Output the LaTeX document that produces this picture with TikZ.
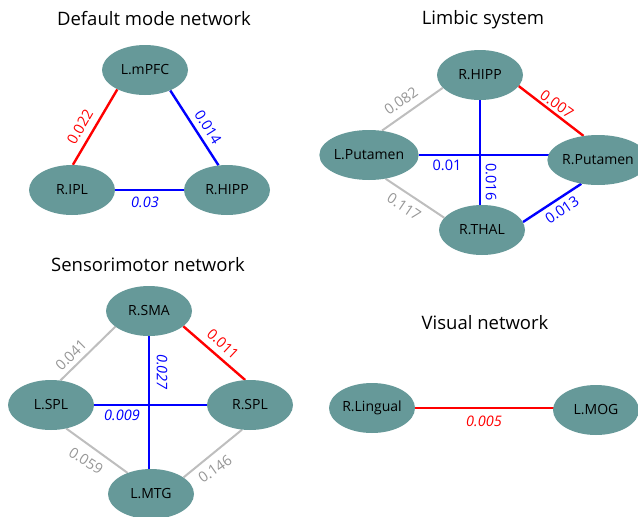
\documentclass[tikz,border=0pt]{standalone}
\usepackage{fontspec}
\setmainfont{Open Sans}
\usetikzlibrary{shapes.geometric,backgrounds}
\definecolor{region}{RGB}{102,153,153}
\definecolor{posred}{RGB}{255,0,0}
\definecolor{negblue}{RGB}{0,0,255}
\definecolor{nsgray}{RGB}{190,190,190}
\definecolor{nstext}{RGB}{150,150,150}
\tikzset{
  region/.style={ellipse, fill=region, minimum width=86pt, minimum height=50pt,
    inner sep=0pt, font=\fontsize{14}{14}\selectfont, text=black},
  nettitle/.style={font=\fontsize{18.5}{19}\selectfont, text=black},
  edgeval/.style={font=\fontsize{14.5}{14.5}\selectfont, inner sep=0pt},
  redlink/.style={draw=posred, line width=2.4pt},
  bluelink/.style={draw=negblue, line width=2.4pt},
  graylink/.style={draw=nsgray, line width=2pt},
  redval/.style={edgeval, text=posred},
  blueval/.style={edgeval, text=negblue},
  grayval/.style={edgeval, text=nstext},
}
\begin{document}
\begin{tikzpicture}[x=1pt, y=-1pt]
\useasboundingbox (0,0) rectangle (638,517);

% ---- Default mode network ----
\node[nettitle] (tdmn) at (154,19) {Default mode network};
\node[region] (mpfc) at (145,70) {L.mPFC};
\node[region] (ipl) at (72,190) {R.IPL};
\node[region] (hippd) at (227,190) {R.HIPP};

% ---- Limbic system ----
\node[nettitle] (tlim) at (483,20) {Limbic system};
\node[region] (hipp) at (480,75) {R.HIPP};
\node[region] (lput) at (369,155) {L.Putamen};
\node[region] (rput) at (598,160) {R.Putamen};
\node[region] (thal) at (482,230) {R.THAL};

% ---- Sensorimotor network ----
\node[nettitle] (tsm) at (148,265) {Sensorimotor network};
\node[region] (sma) at (149,311) {R.SMA};
\node[region] (lspl) at (51,405) {L.SPL};
\node[region] (rspl) at (250,405) {R.SPL};
\node[region] (mtg) at (151,494) {L.MTG};

% ---- Visual network ----
\node[nettitle] (tvis) at (485,323) {Visual network};
\node[region] (ling) at (372,408) {R.Lingual};
\node[region] (mog) at (596,410) {L.MOG};

\begin{pgfonlayer}{background}
  % default mode
  \draw[redlink] (mpfc.215) -- (ipl.88);
  \draw[bluelink] (mpfc.321) -- (hippd.109);
  \draw[bluelink] (ipl) -- (hippd);
  % limbic
  \draw[graylink] (lput.62) -- (hipp.199);
  \draw[redlink] (hipp.344) -- (rput.121);
  \draw[bluelink] (lput) -- (lput -| rput);
  \draw[bluelink] (hipp) -- (hipp |- thal);
  \draw[graylink] (lput.305) -- (thal.162);
  \draw[bluelink] (thal.11) -- (rput.235);
  % sensorimotor
  \draw[graylink] (lspl.69) -- (sma.205);
  \draw[redlink] (sma.336) -- (rspl.101);
  \draw[bluelink] (sma) -- (sma |- mtg);
  \draw[bluelink] (lspl) -- (rspl);
  \draw[graylink] (lspl.303) -- (mtg.138);
  \draw[graylink] (rspl.252) -- (mtg.27);
  % visual
  \draw[redlink] (ling) -- (ling -| mog);
\end{pgfonlayer}

% edge values
\node[redval, rotate=60] (v1) at (80,127) {0.022};
\node[blueval, rotate=-58] (v2) at (208,127) {0.014};
\node[blueval] (v3) at (145,202) {\itshape 0.03};

\node[grayval, rotate=35] (v4) at (401,101) {0.082};
\node[redval, rotate=-36] (v5) at (557,104) {0.007};
\node[blueval] (v6) at (447,165) {0.01};
\node[blueval, rotate=-90] (v7) at (491,182) {0.016};
\node[grayval, rotate=-34] (v8) at (404,207) {0.117};
\node[blueval, rotate=34] (v9) at (562,210) {0.013};

\node[grayval, rotate=45] (v10) at (71,355) {0.041};
\node[redval, rotate=-43] (v11) at (223,344) {0.011};
\node[blueval, rotate=-90] (v12) at (162,372) {\itshape 0.027};
\node[blueval] (v13) at (122,415) {\itshape 0.009};
\node[grayval, rotate=-33] (v14) at (86,461) {0.059};
\node[grayval, rotate=35] (v15) at (215,469) {0.146};

\node[redval] (v16) at (484,421) {\itshape 0.005};
\end{tikzpicture}
\end{document}
